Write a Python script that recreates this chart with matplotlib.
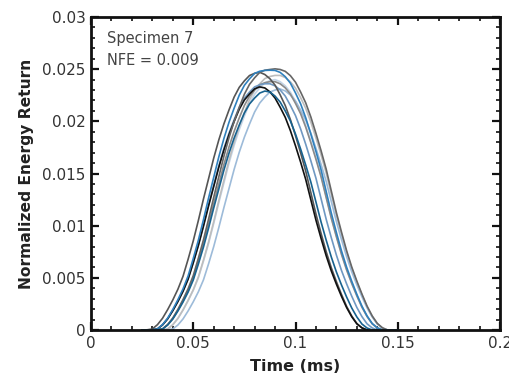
import matplotlib
matplotlib.use("Agg")
import matplotlib.pyplot as plt
from matplotlib.ticker import MultipleLocator, FixedLocator

# Sample times (ms)
time_ms = [0.025, 0.0275, 0.03, 0.0325, 0.035, 0.0375, 0.04, 0.0425, 0.045, 0.0475,
           0.05, 0.0525, 0.055, 0.0575, 0.06, 0.0625, 0.065, 0.0675, 0.07, 0.0725,
           0.075, 0.0775, 0.08, 0.0825, 0.085, 0.0875, 0.09, 0.0925, 0.095, 0.0975,
           0.1, 0.1025, 0.105, 0.1075, 0.11, 0.1125, 0.115, 0.1175, 0.12, 0.1225,
           0.125, 0.1275, 0.13, 0.1325, 0.135, 0.1375, 0.14, 0.1425, 0.145, 0.1475,
           0.15]

# Normalized energy return of each trial
trial_dark_gray_top = [
    0, 0, 0, 0.00002, 0.0001, 0.00052, 0.00115, 0.00198, 0.00292, 0.00396,
    0.00521, 0.00688, 0.00865, 0.01063, 0.01271, 0.01469, 0.01667, 0.01844, 0.02, 0.02135,
    0.0226, 0.02354, 0.02417, 0.02469, 0.0249, 0.02497, 0.02503, 0.02497, 0.02479, 0.02438,
    0.02375, 0.02281, 0.02177, 0.02042, 0.01885, 0.01719, 0.01542, 0.01333, 0.01125, 0.00938,
    0.0076, 0.00604, 0.00469, 0.00344, 0.00229, 0.00135, 0.00063, 0.00021, 0, 0,
    0]
trial_blue = [
    0, 0, 0.00002, 0.0001, 0.00052, 0.00114, 0.00197, 0.00291, 0.00394, 0.00519,
    0.00685, 0.00861, 0.01058, 0.01266, 0.01463, 0.0166, 0.01836, 0.01992, 0.02127, 0.02251,
    0.02345, 0.02407, 0.02459, 0.0248, 0.02488, 0.0249, 0.02488, 0.02469, 0.02428, 0.02366,
    0.02272, 0.02168, 0.02034, 0.01878, 0.01712, 0.01536, 0.01328, 0.01121, 0.00934, 0.00757,
    0.00602, 0.00467, 0.00342, 0.00228, 0.00135, 0.00062, 0.00021, 0, 0, 0,
    0]
trial_dark_gray_left = [
    0, 0.00002, 0.0001, 0.00051, 0.00113, 0.00196, 0.00288, 0.00391, 0.00515, 0.00679,
    0.00854, 0.0105, 0.01256, 0.01451, 0.01647, 0.01822, 0.01976, 0.0211, 0.02233, 0.02326,
    0.02388, 0.02439, 0.0246, 0.0247, 0.02449, 0.02408, 0.02347, 0.02254, 0.02151, 0.02017,
    0.01863, 0.01698, 0.01523, 0.01317, 0.01112, 0.00926, 0.00751, 0.00597, 0.00463, 0.0034,
    0.00226, 0.00134, 0.00062, 0.00021, 0, 0, 0, 0, 0, 0,
    0]
trial_black = [
    0, 0, 0.00002, 0.0001, 0.00049, 0.00107, 0.00185, 0.00273, 0.00371, 0.00488,
    0.00644, 0.00809, 0.00995, 0.0119, 0.01375, 0.0156, 0.01726, 0.01872, 0.01999, 0.02116,
    0.02204, 0.02262, 0.02311, 0.0233, 0.0232, 0.02282, 0.02223, 0.02135, 0.02038, 0.01911,
    0.01765, 0.01609, 0.01443, 0.01248, 0.01053, 0.00878, 0.00712, 0.00566, 0.00439, 0.00322,
    0.00215, 0.00127, 0.00059, 0.0002, 0, 0, 0, 0, 0, 0,
    0]
trial_light_gray = [
    0, 0, 0, 0, 0.00002, 0.0001, 0.00051, 0.00112, 0.00193, 0.00285,
    0.00386, 0.00508, 0.00671, 0.00844, 0.01037, 0.0124, 0.01434, 0.01627, 0.018, 0.01952,
    0.02084, 0.02206, 0.02298, 0.02359, 0.0241, 0.0243, 0.0244, 0.0244, 0.0242, 0.02379,
    0.02318, 0.02227, 0.02125, 0.01993, 0.0184, 0.01678, 0.01505, 0.01301, 0.01098, 0.00915,
    0.00742, 0.0059, 0.00458, 0.00336, 0.00224, 0.00132, 0.00061, 0.0002, 0, 0,
    0]
trial_gray = [
    0, 0, 0, 0.00002, 0.0001, 0.0005, 0.00109, 0.00188, 0.00278, 0.00377,
    0.00496, 0.00655, 0.00823, 0.01012, 0.0121, 0.01398, 0.01587, 0.01755, 0.01904, 0.02033,
    0.02152, 0.02241, 0.02301, 0.0235, 0.0237, 0.0238, 0.0238, 0.0236, 0.02321, 0.02261,
    0.02172, 0.02073, 0.01944, 0.01795, 0.01636, 0.01468, 0.01269, 0.01071, 0.00893, 0.00724,
    0.00575, 0.00446, 0.00327, 0.00218, 0.00129, 0.0006, 0.0002, 0, 0, 0,
    0]
trial_light_blue = [
    0, 0, 0, 0, 0, 0.00002, 0.0001, 0.00048, 0.00106, 0.00183,
    0.0027, 0.00366, 0.00481, 0.00635, 0.00799, 0.00982, 0.01174, 0.01357, 0.0154, 0.01704,
    0.01848, 0.01973, 0.02089, 0.02175, 0.02233, 0.02281, 0.023, 0.0231, 0.02291, 0.02252,
    0.02195, 0.02108, 0.02012, 0.01887, 0.01742, 0.01588, 0.01425, 0.01232, 0.0104, 0.00866,
    0.00703, 0.00558, 0.00433, 0.00318, 0.00212, 0.00125, 0.00058, 0.00019, 0, 0,
    0]
trial_dark_blue = [
    0, 0, 0, 0.00002, 0.0001, 0.00048, 0.00105, 0.00182, 0.00268, 0.00364,
    0.00479, 0.00632, 0.00795, 0.00977, 0.01169, 0.01351, 0.01533, 0.01696, 0.0184, 0.01965,
    0.0208, 0.02166, 0.02223, 0.02271, 0.0229, 0.02281, 0.02242, 0.02185, 0.02099, 0.02003,
    0.01878, 0.01735, 0.01581, 0.01418, 0.01227, 0.01035, 0.00862, 0.007, 0.00556, 0.00431,
    0.00316, 0.00211, 0.00125, 0.00057, 0.00019, 0, 0, 0, 0, 0,
    0]
trial_steel_blue = [
    0, 0, 0.00002, 0.0001, 0.00049, 0.00108, 0.00187, 0.00275, 0.00374, 0.00492,
    0.00649, 0.00816, 0.01003, 0.012, 0.01386, 0.01573, 0.0174, 0.01888, 0.02016, 0.02134,
    0.02222, 0.02281, 0.0233, 0.0235, 0.0236, 0.0236, 0.0234, 0.02301, 0.02242, 0.02153,
    0.02055, 0.01927, 0.0178, 0.01622, 0.01455, 0.01259, 0.01062, 0.00885, 0.00718, 0.0057,
    0.00442, 0.00324, 0.00216, 0.00128, 0.00059, 0.0002, 0, 0, 0, 0,
    0]
trial_pale_blue = [
    0, 0, 0, 0, 0.00002, 0.0001, 0.0005, 0.0011, 0.0019, 0.0028,
    0.0038, 0.005, 0.0066, 0.0083, 0.0102, 0.0122, 0.0141, 0.016, 0.0177, 0.0192,
    0.0205, 0.0217, 0.0226, 0.0232, 0.0237, 0.0239, 0.024, 0.0238, 0.0234, 0.0228,
    0.0219, 0.0209, 0.0196, 0.0181, 0.0165, 0.0148, 0.0128, 0.0108, 0.009, 0.0073,
    0.0058, 0.0045, 0.0033, 0.0022, 0.0013, 0.0006, 0.0002, 0, 0, 0,
    0]

trials = [
    (trial_pale_blue, "#c3d4e7"),
    (trial_light_gray, "#bdbdbd"),
    (trial_light_blue, "#9dbbd9"),
    (trial_gray, "#8a8a8a"),
    (trial_steel_blue, "#6f98c2"),
    (trial_dark_gray_left, "#555555"),
    (trial_black, "#111111"),
    (trial_dark_gray_top, "#666666"),
    (trial_blue, "#2f80bd"),
    (trial_dark_blue, "#17628f"),
]

x_ticks = [0, 0.05, 0.1, 0.15, 0.2]
x_tick_labels = ["0", "0.05", "0.1", "0.15", "0.2"]
y_ticks = [0, 0.005, 0.01, 0.015, 0.02, 0.025, 0.03]
y_tick_labels = ["0", "0.005", "0.01", "0.015", "0.02", "0.025", "0.03"]

plt.rcParams['font.family'] = ['DejaVu Sans']

fig = plt.figure(figsize=(5.09, 3.83), dpi=100)
ax = fig.add_axes([91/509, 1 - 330/383, (500 - 91)/509, (330 - 17)/383])

for ys, col in trials:
    ax.plot(time_ms, ys, color=col, lw=1.2, solid_joinstyle="round")

ax.set_xlim(0, 0.2)
ax.set_ylim(0, 0.03)
ax.xaxis.set_major_locator(FixedLocator(x_ticks))
ax.set_xticklabels(x_tick_labels)
ax.yaxis.set_major_locator(FixedLocator(y_ticks))
ax.set_yticklabels(y_tick_labels)
ax.xaxis.set_minor_locator(MultipleLocator(0.01))
ax.yaxis.set_minor_locator(MultipleLocator(0.001))

ax.tick_params(which="both", direction="in", top=True, right=True,
               labelsize=11, labelcolor="#333333", color="#111111")
ax.tick_params(which="major", length=6, width=1.6, pad=4)
ax.tick_params(which="minor", length=3, width=1.2)
for s in ax.spines.values():
    s.set_linewidth(2.0)
    s.set_color("#111111")

ax.set_xlabel("Time (ms)", fontsize=11.5, fontweight="bold", color="#222222", labelpad=6)
ax.set_ylabel("Normalized Energy Return", fontsize=11.2, fontweight="bold", color="#222222", labelpad=6)

ax.text(0.04, 0.93, "Specimen 7", transform=ax.transAxes, fontsize=10.5,
        color="#444444", va="center", ha="left")
ax.text(0.04, 0.86, "NFE = 0.009", transform=ax.transAxes, fontsize=10.5,
        color="#444444", va="center", ha="left")

fig.savefig("out.png", dpi=100)
